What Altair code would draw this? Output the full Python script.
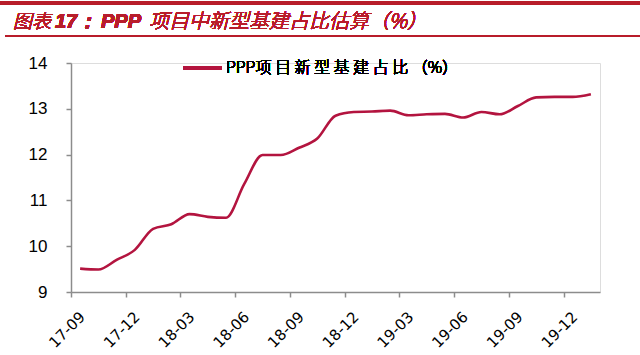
import altair as alt
import pandas as pd

# monthly values, Sep-2017 .. Jan-2020 (one per category slot)
values = [9.51, 9.49, 9.70, 9.92, 10.38, 10.48, 10.70, 10.64, 10.62, 11.36,
          11.99, 11.99, 12.15, 12.35, 12.85, 12.93, 12.94, 12.96, 12.86, 12.88,
          12.89, 12.81, 12.93, 12.88, 13.06, 13.25, 13.26, 13.26, 13.32]
positions = [i + 0.5 for i in range(len(values))]
tick_labels = ["17-09", "17-12", "18-03", "18-06", "18-09",
               "18-12", "19-03", "19-06", "19-09", "19-12"]
tick_values = [3 * i for i in range(len(tick_labels))]
series_name = "PPP项目新型基建占比（%）"

df = pd.DataFrame({"pos": positions, "value": values})

label_expr = "[" + ",".join(f"'{t}'" for t in tick_labels) + "][round(datum.value/3)]"

LINE = "#B3143F"
RED = "#B81D2B"

base = alt.Chart(df)

line = base.mark_line(color=LINE, strokeWidth=2.6, interpolate="monotone").encode(
    x=alt.X("pos:Q", scale=alt.Scale(domain=[0, 29], nice=False, zero=False),
            axis=alt.Axis(values=tick_values, labelExpr=label_expr, title=None,
                          grid=False, labelAngle=-45, labelAlign="right",
                          labelBaseline="middle", labelFont="DejaVu Sans",
                          labelFontSize=15, labelColor="#000000",
                          domainColor="#8c8c8c", tickColor="#8c8c8c",
                          domainWidth=1.5, tickWidth=1.5,
                          tickSize=5, labelPadding=17, labelOffset=11)),
    y=alt.Y("value:Q", scale=alt.Scale(domain=[9, 14], nice=False, zero=False),
            axis=alt.Axis(values=[9, 10, 11, 12, 13, 14], title=None, grid=False,
                          labelFont="Liberation Sans", labelFontSize=17,
                          labelColor="#000000", domainColor="#8c8c8c",
                          tickColor="#8c8c8c", domainWidth=1.5, tickWidth=1.5,
                          tickSize=5, labelPadding=19)),
)

# legend
leg_line = base.mark_rule(color=LINE, strokeWidth=2.6).encode(
    x=alt.value(112), x2=alt.value(151), y=alt.value(5))
leg_text = base.mark_text(align="left", baseline="middle", font="Noto Sans CJK SC",
                          fontSize=16, fontWeight=300, color="#000000").encode(
    x=alt.value(155), y=alt.value(5),
    text=alt.value("PPP项 目 新 型 基 建 占 比 （%）"))

# header decoration
top_rule = base.mark_rule(color=RED, strokeWidth=2.5).encode(
    x=alt.value(-71), x2=alt.value(569), y=alt.value(-60))
bot_rule = base.mark_rule(color=RED, strokeWidth=1).encode(
    x=alt.value(-66), x2=alt.value(569), y=alt.value(-27))
t1 = base.mark_text(align="left", baseline="alphabetic", font="Noto Sans CJK SC",
                    fontSize=19, fontStyle="italic", fontWeight=300, color=RED).encode(
    x=alt.value(-58), y=alt.value(-35), text=alt.value("图表"))
t2 = base.mark_text(align="left", baseline="alphabetic", font="Liberation Sans",
                    fontSize=20, fontStyle="italic", fontWeight="bold", color=RED).encode(
    x=alt.value(-16), y=alt.value(-35), text=alt.value("17："))
t3 = base.mark_text(align="left", baseline="alphabetic", font="Liberation Sans",
                    fontSize=20, fontStyle="italic", fontWeight="bold", color=RED).encode(
    x=alt.value(30), y=alt.value(-35), text=alt.value("PPP"))
t4 = base.mark_text(align="left", baseline="alphabetic", font="Noto Sans CJK SC",
                    fontSize=20, fontStyle="italic", fontWeight=300, color=RED).encode(
    x=alt.value(78), y=alt.value(-35), text=alt.value("项目中新型基建占比估算（%）"))

chart = alt.layer(line, leg_line, leg_text, top_rule, bot_rule, t1, t2, t3, t4).properties(
    width=529, height=229,
    autosize=alt.AutoSizeParams(type="none"),
    padding={"left": 71, "top": 63, "right": 40, "bottom": 63},
).configure_view(stroke=None).configure(background="#ffffff")

chart.save("out.html", embed_options={"renderer": "svg", "actions": False})
